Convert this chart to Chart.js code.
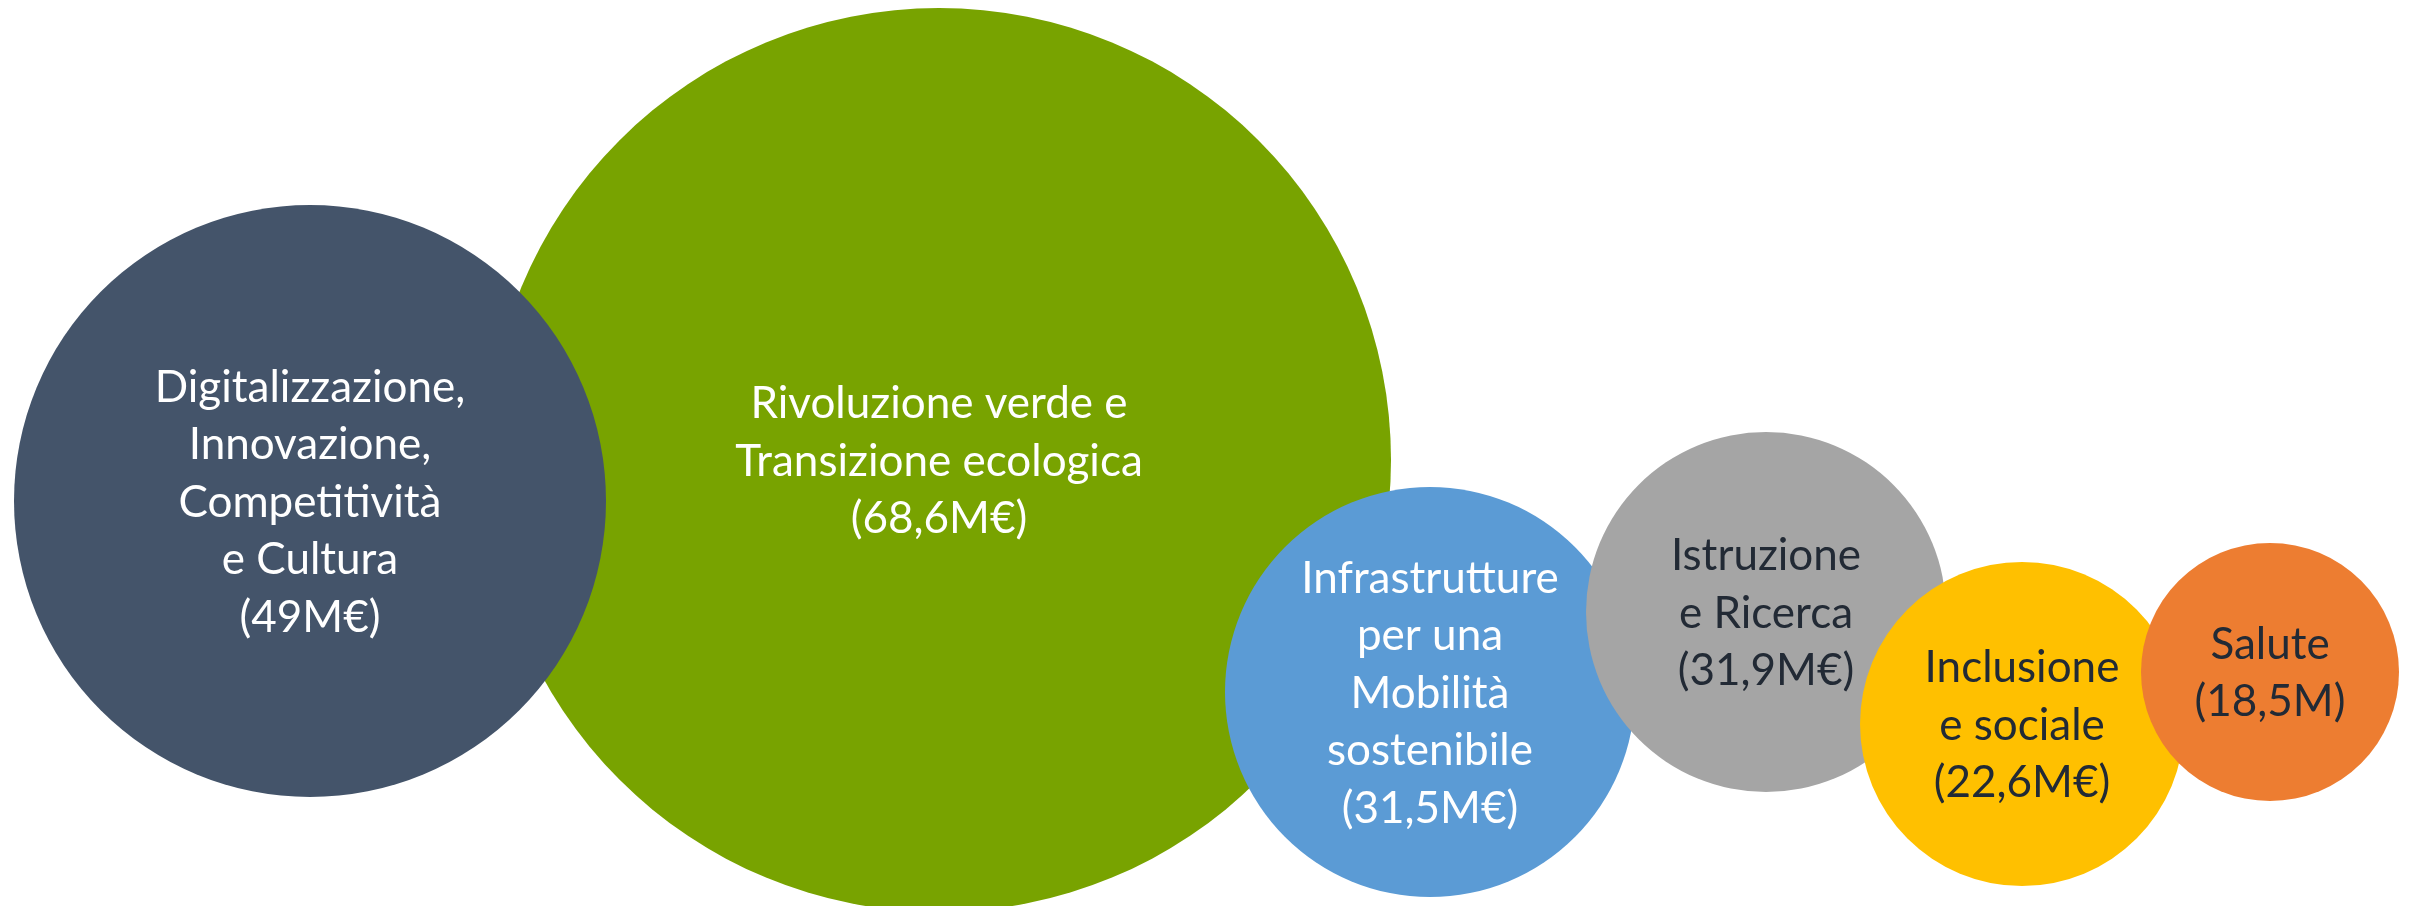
<!DOCTYPE html>
<html>
<head>
<meta charset="utf-8">
<script src="https://cdn.jsdelivr.net/npm/chart.js@4"></script>
<style>
  html, body { margin: 0; padding: 0; background: #ffffff; }
  #wrap { width: 2412px; height: 906px; }
</style>
</head>
<body>
<div id="wrap"><canvas id="bubbles" width="2412" height="906"></canvas></div>
<script>
// missioni e importi (M€)
const categories = ['Digitalizzazione, Innovazione, Competitività e Cultura', 'Rivoluzione verde e Transizione ecologica',
  'Infrastrutture per una Mobilità sostenibile', 'Istruzione e Ricerca', 'Inclusione e sociale', 'Salute'];
const nameLines = [
  ['Digitalizzazione,', 'Innovazione,', 'Competitività', 'e Cultura'],
  ['Rivoluzione verde e', 'Transizione ecologica'],
  ['Infrastrutture', 'per una', 'Mobilità', 'sostenibile'],
  ['Istruzione', 'e Ricerca'],
  ['Inclusione', 'e sociale'],
  ['Salute']
];
const amounts = [49, 68.6, 31.5, 31.9, 22.6, 18.5];
const amountLabels = ['(49M€)', '(68,6M€)', '(31,5M€)', '(31,9M€)', '(22,6M€)', '(18,5M)'];

// posizione e dimensione delle bolle
const bubbleX = [310, 939, 1430, 1766, 2022, 2270];
const bubbleY = [501, 460, 692, 612, 724, 672];
const bubbleR = [296, 452, 205, 180, 162, 129];

const colori = ['#44546A', '#78A300', '#5B9BD5', '#A5A5A5', '#FFC000', '#ED7D31'];
const coloriTesto = ['#ffffff', '#ffffff', '#ffffff', '#222A35', '#222A35', '#222A35'];
const livello = [4, 5, 3, 2, 1, 0]; // ordine di disegno (piu basso = sopra)

var datasets = [];
for (var i = 0; i < categories.length; i++) {
  datasets.push({
    label: categories[i],
    data: [{ x: bubbleX[i], y: bubbleY[i], r: bubbleR[i], v: amounts[i] }],
    backgroundColor: colori[i],
    hoverBackgroundColor: colori[i],
    borderWidth: 0,
    hoverBorderWidth: 0,
    hoverRadius: 0,
    order: livello[i],
    clip: false
  });
}

// scritte dentro le bolle
const etichette = {
  id: 'etichette',
  afterDatasetsDraw: function(chart) {
    var ctx = chart.ctx;
    var lh = 57.5, capH = 31;
    ctx.save();
    ctx.font = '44px Lato';
    ctx.textAlign = 'center';
    ctx.textBaseline = 'alphabetic';
    for (var i = 0; i < categories.length; i++) {
      var el = chart.getDatasetMeta(i).data[0];
      var righe = nameLines[i].concat([amountLabels[i]]);
      var y0 = el.y - (righe.length - 1) * lh / 2 + capH / 2;
      ctx.fillStyle = coloriTesto[i];
      for (var j = 0; j < righe.length; j++) {
        ctx.fillText(righe[j], el.x, y0 + j * lh);
      }
    }
    ctx.restore();
  }
};

new Chart(document.getElementById('bubbles'), {
  type: 'bubble',
  data: { datasets: datasets },
  options: {
    responsive: false,
    animation: false,
    devicePixelRatio: 1,
    layout: { padding: 0, autoPadding: false },
    plugins: { legend: { display: false }, tooltip: { enabled: false } },
    scales: {
      x: { type: 'linear', min: 0, max: 2412, display: false },
      y: { type: 'linear', min: 0, max: 906, reverse: true, display: false }
    }
  },
  plugins: [etichette]
});
</script>
</body>
</html>
